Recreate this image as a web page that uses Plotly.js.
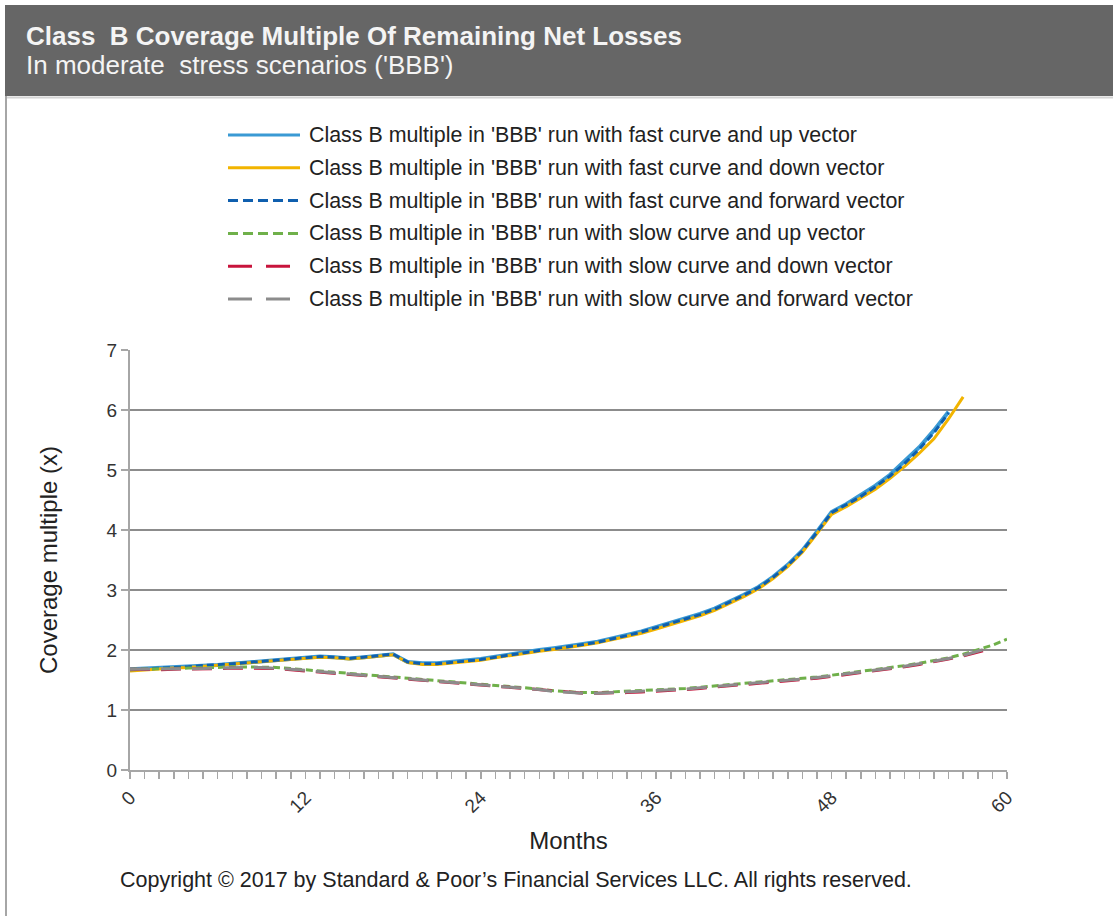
<!DOCTYPE html>
<html><head><meta charset="utf-8">
<script src="https://cdn.plot.ly/plotly-3.0.1.min.js"></script>
<style>html,body{margin:0;padding:0;background:#fff}#chart{width:1113px;height:916px}</style>
</head><body><div id="chart"></div>
<script>
// ---- data ----
const months = [0,1,2,3,4,5,6,7,8,9,10,11,12,13,14,15,16,17,18,19,20,21,22,23,24,25,26,27,28,29,30,31,32,33,34,35,36,37,38,39,40,41,42,43,44,45,46,47,48,49,50,51,52,53,54,55,56,57,58,59,60];
const xTickVals = [0,12,24,36,48,60];
const seriesNames = [
  "Class B multiple in 'BBB' run with fast curve and up vector",
  "Class B multiple in 'BBB' run with fast curve and down vector",
  "Class B multiple in 'BBB' run with fast curve and forward vector",
  "Class B multiple in 'BBB' run with slow curve and up vector",
  "Class B multiple in 'BBB' run with slow curve and down vector",
  "Class B multiple in 'BBB' run with slow curve and forward vector"
];
const fastUp = [1.68,1.69,1.70,1.71,1.72,1.74,1.75,1.77,1.79,1.81,1.83,1.86,1.88,1.89,1.88,1.86,1.88,1.90,1.93,1.80,1.78,1.78,1.80,1.83,1.85,1.89,1.93,1.97,2.00,2.03,2.06,2.10,2.14,2.19,2.25,2.31,2.38,2.45,2.52,2.60,2.69,2.80,2.92,3.05,3.22,3.42,3.66,3.97,4.30,4.43,4.58,4.74,4.92,5.14,5.38,5.66,5.97];
const fastDown = [1.65,1.67,1.69,1.70,1.71,1.73,1.74,1.76,1.78,1.80,1.82,1.85,1.87,1.88,1.87,1.85,1.87,1.89,1.92,1.79,1.76,1.76,1.78,1.81,1.83,1.87,1.91,1.95,1.98,2.01,2.04,2.08,2.12,2.17,2.22,2.28,2.35,2.42,2.49,2.57,2.66,2.77,2.89,3.02,3.19,3.39,3.63,3.94,4.26,4.39,4.53,4.68,4.86,5.06,5.28,5.52,5.85,6.22];
const fastForward = [1.67,1.68,1.70,1.71,1.72,1.74,1.75,1.77,1.79,1.81,1.83,1.86,1.88,1.89,1.88,1.86,1.88,1.90,1.93,1.80,1.77,1.77,1.79,1.82,1.84,1.88,1.92,1.96,1.99,2.02,2.05,2.09,2.13,2.18,2.24,2.30,2.37,2.44,2.51,2.59,2.68,2.79,2.91,3.04,3.21,3.41,3.65,3.96,4.29,4.42,4.56,4.72,4.90,5.11,5.35,5.62,5.95];
const slowUp = [1.68,1.68,1.69,1.69,1.70,1.70,1.71,1.72,1.72,1.72,1.71,1.69,1.67,1.65,1.63,1.61,1.60,1.58,1.56,1.54,1.52,1.50,1.48,1.46,1.44,1.41,1.39,1.37,1.35,1.32,1.30,1.29,1.29,1.30,1.31,1.32,1.33,1.34,1.36,1.38,1.40,1.42,1.44,1.46,1.48,1.50,1.52,1.55,1.58,1.61,1.64,1.67,1.70,1.74,1.78,1.82,1.87,1.93,2.00,2.08,2.18];
const slowDown = [1.68,1.67,1.67,1.68,1.68,1.68,1.69,1.70,1.70,1.70,1.69,1.67,1.65,1.63,1.61,1.59,1.57,1.56,1.54,1.52,1.50,1.48,1.46,1.44,1.42,1.40,1.37,1.35,1.33,1.31,1.29,1.28,1.28,1.28,1.29,1.30,1.31,1.33,1.34,1.36,1.38,1.40,1.42,1.44,1.46,1.48,1.51,1.53,1.56,1.59,1.62,1.65,1.68,1.72,1.76,1.80,1.85,1.90,1.96,2.03];
const slowForward = [1.68,1.68,1.68,1.69,1.69,1.69,1.70,1.71,1.71,1.71,1.70,1.68,1.66,1.64,1.62,1.60,1.59,1.57,1.55,1.53,1.51,1.49,1.47,1.45,1.43,1.41,1.38,1.36,1.34,1.31,1.29,1.28,1.28,1.29,1.30,1.31,1.32,1.33,1.35,1.37,1.39,1.41,1.43,1.45,1.47,1.49,1.52,1.54,1.57,1.60,1.63,1.66,1.69,1.73,1.77,1.81,1.86,1.91,1.98,2.05];

// ---- styles ----
const seriesValues = [fastUp, fastDown, fastForward, slowUp, slowDown, slowForward];
const seriesColors = ['#3a9ad4','#f2b400','#0f5fae','#6fb04a','#c8143c','#8c8c8c'];
const seriesDash = ['solid','solid','7px,4px','7px,4px','20px,11px','20px,11px'];
const seriesWidth = [4,3,3,3,3,3];
const legendDash = ['solid','solid','10px,5px','10px,5px','24px,14px','24px,14px'];

const FONT = 'Liberation Sans, Arial, sans-serif';
const W=1113,H=916,L=130,R=106,T=350,B=146;
const PW=W-L-R, PH=H-T-B;
const px = x => (x-L)/PW, py = y => (H-B-y)/PH;

const traces = seriesValues.map((vals,i)=>({
  type:'scatter', mode:'lines', name:seriesNames[i],
  x: months.slice(0, vals.length), y: vals,
  line:{color:seriesColors[i], width:seriesWidth[i], dash:seriesDash[i]},
  hoverinfo:'x+y', showlegend:false
}));

const shapes = [
  {type:'rect', xref:'paper', yref:'paper', x0:px(5), x1:px(1113), y0:py(96), y1:py(5), fillcolor:'#666666', line:{width:0}, layer:'below'},
  {type:'line', xref:'paper', yref:'paper', x0:px(5), x1:px(1113), y0:py(97.5), y1:py(97.5), line:{color:'#d4d4d4', width:2}},
  {type:'line', xref:'paper', yref:'paper', x0:px(6), x1:px(6), y0:py(96), y1:py(916), line:{color:'#a6a6a6', width:2}}
];
const annotations = [
  {xref:'paper', yref:'paper', x:px(24), y:py(36), xanchor:'left', yanchor:'middle', showarrow:false,
   text:'<b>Class\u00a0 B Coverage Multiple Of Remaining Net Losses</b>', font:{family:FONT, size:26, color:'#f4f4f4'}},
  {xref:'paper', yref:'paper', x:px(24), y:py(65), xanchor:'left', yanchor:'middle', showarrow:false,
   text:"In moderate\u00a0 stress scenarios ('BBB')", font:{family:FONT, size:26, color:'#f4f4f4'}},
  {xref:'paper', yref:'paper', x:px(118), y:py(880), xanchor:'left', yanchor:'middle', showarrow:false,
   text:"Copyright \u00a9 2017 by Standard & Poor\u2019s Financial Services LLC. All rights reserved.", font:{family:FONT, size:21.5, color:'#222222'}}
];
seriesNames.forEach((nm,i)=>{
  const yy = 135 + i*32.8;
  shapes.push({type:'line', xref:'paper', yref:'paper', x0:px(228), x1:px(300), y0:py(yy), y1:py(yy),
    line:{color:seriesColors[i], width:3, dash:legendDash[i]}});
  annotations.push({xref:'paper', yref:'paper', x:px(307), y:py(yy), xanchor:'left', yanchor:'middle', showarrow:false,
    text:nm, font:{family:FONT, size:21.4, color:'#222222'}});
});

const layout = {
  width:W, height:H, margin:{l:L, r:R, t:T, b:B, pad:0},
  paper_bgcolor:'#ffffff', plot_bgcolor:'#ffffff',
  font:{family:FONT, color:'#333333'},
  showlegend:false,
  xaxis:{range:[0,60], tickmode:'linear', tick0:xTickVals[0], dtick:12, tickangle:-45,
    ticks:'outside', ticklen:7, tickwidth:1.5, tickcolor:'#a6a6a6',
    minor:{dtick:1, ticks:'outside', ticklen:7, tickwidth:1.5, tickcolor:'#a6a6a6', showgrid:false},
    showline:true, linecolor:'#a6a6a6', linewidth:2, showgrid:false, zeroline:false,
    tickfont:{family:FONT, size:19, color:'#333333'},
    title:{text:'Months', font:{family:FONT, size:24, color:'#222222'}, standoff:16}},
  yaxis:{range:[0,7], tickmode:'linear', dtick:1, showgrid:true, gridcolor:'#8c8c8c', gridwidth:1.5,
    showline:true, linecolor:'#a6a6a6', linewidth:2, ticks:'outside', ticklen:7, tickwidth:1.5, tickcolor:'#a6a6a6',
    zeroline:false, tickfont:{family:FONT, size:19, color:'#333333'},
    title:{text:'Coverage multiple (x)', font:{family:FONT, size:24, color:'#222222'}, standoff:42}},
  shapes:shapes, annotations:annotations
};
Plotly.newPlot('chart', traces, layout, {displayModeBar:false, staticPlot:true});
</script></body></html>
